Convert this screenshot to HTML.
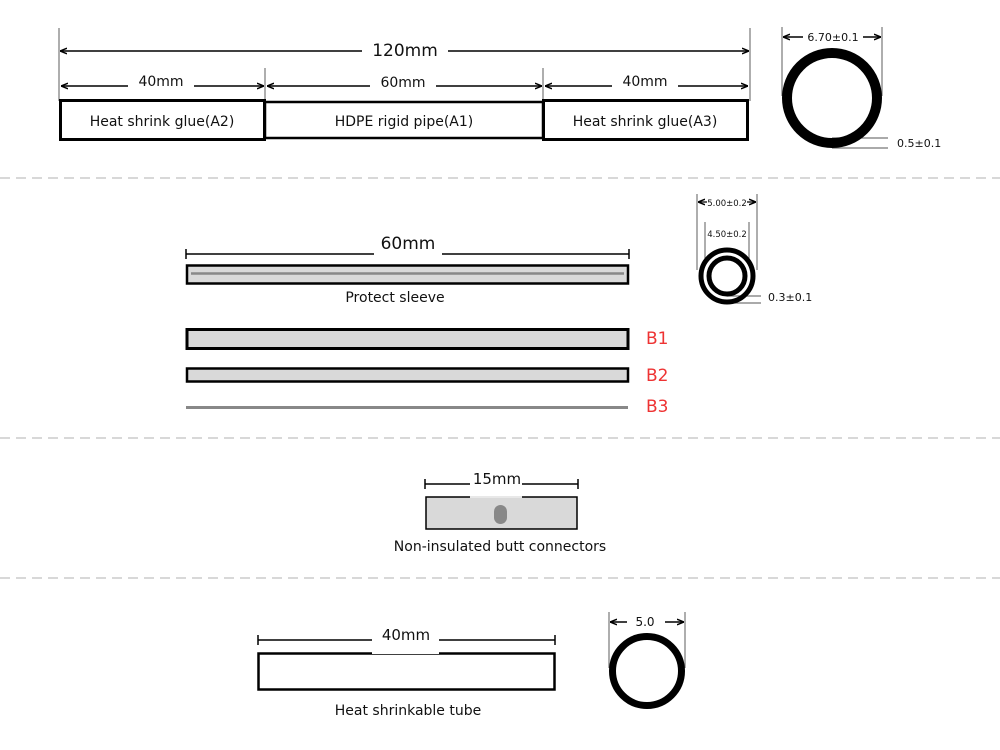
<!DOCTYPE html>
<html><head><meta charset="utf-8"><style>
html,body{margin:0;padding:0;background:#fff;}
svg{display:block;font-family:"DejaVu Sans","Liberation Sans",sans-serif;}
</style></head><body>
<svg width="1000" height="750" viewBox="0 0 1000 750" xmlns="http://www.w3.org/2000/svg">
<defs>
<marker id="ah" viewBox="0 0 10 10" refX="10" refY="5" markerWidth="7" markerHeight="7" orient="auto-start-reverse" markerUnits="userSpaceOnUse">
<path d="M0,1 L10,5 L0,9" fill="none" stroke="#000" stroke-width="2"/>
</marker>
</defs>
<!-- separators -->
<g stroke="#ccc" stroke-width="1.5" stroke-dasharray="10,6">
<line x1="0" y1="178" x2="1000" y2="178"/>
<line x1="0" y1="438" x2="1000" y2="438"/>
<line x1="0" y1="578" x2="1000" y2="578"/>
</g>

<!-- Section 1 -->
<g stroke="#777" stroke-width="1.2">
<line x1="59" y1="28" x2="59" y2="101"/>
<line x1="750" y1="28" x2="750" y2="101"/>
<line x1="265" y1="68" x2="265" y2="100"/>
<line x1="543" y1="68" x2="543" y2="100"/>
</g>
<g stroke="#000" stroke-width="1.5" marker-start="url(#ah)" marker-end="url(#ah)">
<line x1="60" y1="51" x2="749" y2="51"/>
<line x1="61" y1="86" x2="264" y2="86"/>
<line x1="267" y1="86" x2="542" y2="86"/>
<line x1="545" y1="86" x2="748" y2="86"/>
</g>
<g fill="#fff">
<rect x="362" y="40" width="86" height="20"/>
<rect x="128" y="74" width="66" height="18"/>
<rect x="370" y="74" width="66" height="18"/>
<rect x="612" y="74" width="66" height="18"/>
</g>
<g font-size="14" text-anchor="middle" fill="#111">
<text x="405" y="56" font-size="17">120mm</text>
<text x="161" y="86">40mm</text>
<text x="403" y="87">60mm</text>
<text x="645" y="86">40mm</text>
</g>
<g fill="#fff" stroke="#000">
<rect x="60.5" y="100.5" width="204" height="39" stroke-width="3"/>
<rect x="265" y="102" width="278" height="36" stroke-width="2.5"/>
<rect x="543.5" y="100.5" width="204" height="39" stroke-width="3"/>
</g>
<g font-size="14" text-anchor="middle" fill="#111">
<text x="162" y="126">Heat shrink glue(A2)</text>
<text x="404" y="126">HDPE rigid pipe(A1)</text>
<text x="645" y="126">Heat shrink glue(A3)</text>
</g>
<!-- big ring -->
<g stroke="#777" stroke-width="1.2">
<line x1="782" y1="27" x2="782" y2="96"/>
<line x1="882" y1="27" x2="882" y2="96"/>
<line x1="832" y1="138" x2="888" y2="138"/>
<line x1="832" y1="148" x2="888" y2="148"/>
</g>
<line x1="783" y1="37" x2="881" y2="37" stroke="#000" stroke-width="1.5" marker-start="url(#ah)" marker-end="url(#ah)"/>
<rect x="803" y="29" width="60" height="16" fill="#fff"/>
<text x="833" y="41" font-size="11" text-anchor="middle" fill="#111">6.70±0.1</text>
<circle cx="832" cy="98" r="45" fill="none" stroke="#000" stroke-width="10"/>
<text x="897" y="147" font-size="11" fill="#111">0.5±0.1</text>

<!-- Section 2 -->
<line x1="186" y1="254" x2="629" y2="254" stroke="#000" stroke-width="1.5"/>
<line x1="186" y1="249" x2="186" y2="259" stroke="#000" stroke-width="1.5"/>
<line x1="629" y1="249" x2="629" y2="259" stroke="#000" stroke-width="1.5"/>
<rect x="374" y="242" width="68" height="20" fill="#fff"/>
<text x="408" y="249" font-size="17" text-anchor="middle" fill="#111">60mm</text>
<rect x="187" y="265.5" width="441" height="18" fill="#d9d9d9" stroke="#000" stroke-width="2.5"/>
<line x1="191" y1="273.5" x2="624" y2="273.5" stroke="#888" stroke-width="2.5"/>
<text x="395" y="302" font-size="14" text-anchor="middle" fill="#111">Protect sleeve</text>
<rect x="187" y="329.5" width="441" height="19" fill="#d9d9d9" stroke="#000" stroke-width="3"/>
<rect x="187" y="368.5" width="441" height="13" fill="#d9d9d9" stroke="#000" stroke-width="2.5"/>
<line x1="186" y1="407.5" x2="628" y2="407.5" stroke="#888" stroke-width="3"/>
<g font-size="17" fill="#ee3333">
<text x="646" y="344">B1</text>
<text x="646" y="381">B2</text>
<text x="646" y="412">B3</text>
</g>
<!-- small double ring -->
<g stroke="#777" stroke-width="1.2">
<line x1="697" y1="194" x2="697" y2="270"/>
<line x1="757" y1="194" x2="757" y2="270"/>
<line x1="705" y1="222" x2="705" y2="266"/>
<line x1="749" y1="222" x2="749" y2="266"/>
<line x1="727" y1="296" x2="761" y2="296"/>
<line x1="727" y1="303" x2="761" y2="303"/>
</g>
<line x1="698" y1="202" x2="756" y2="202" stroke="#000" stroke-width="1.3" marker-start="url(#ah)" marker-end="url(#ah)"/>
<rect x="707" y="196" width="40" height="12" fill="#fff"/>
<text x="727" y="206" font-size="8.5" text-anchor="middle" fill="#111">5.00±0.2</text>
<text x="727" y="237" font-size="8.5" text-anchor="middle" fill="#111">4.50±0.2</text>
<circle cx="727" cy="276" r="26" fill="none" stroke="#000" stroke-width="5"/>
<circle cx="727" cy="276" r="18" fill="none" stroke="#000" stroke-width="5"/>
<text x="768" y="301" font-size="11" fill="#111">0.3±0.1</text>

<!-- Section 3 -->
<line x1="425" y1="484" x2="578" y2="484" stroke="#000" stroke-width="1.5"/>
<line x1="425" y1="479" x2="425" y2="489" stroke="#000" stroke-width="1.5"/>
<line x1="578" y1="479" x2="578" y2="489" stroke="#000" stroke-width="1.5"/>
<rect x="470" y="470" width="52" height="26" fill="#fff"/>
<rect x="426" y="497" width="151" height="32" fill="#d9d9d9" stroke="#000" stroke-width="1.5"/>
<rect x="470" y="496" width="52" height="2" fill="#e8e8e8"/>
<text x="497" y="484" font-size="15" text-anchor="middle" fill="#111">15mm</text>
<rect x="494" y="505" width="13" height="19" rx="6.5" fill="#888"/>
<text x="500" y="551" font-size="14" text-anchor="middle" fill="#111">Non-insulated butt connectors</text>

<!-- Section 4 -->
<line x1="258" y1="640" x2="555" y2="640" stroke="#000" stroke-width="1.5"/>
<line x1="258" y1="635" x2="258" y2="645" stroke="#000" stroke-width="1.5"/>
<line x1="555" y1="635" x2="555" y2="645" stroke="#000" stroke-width="1.5"/>
<rect x="258.5" y="653.5" width="296" height="36" fill="#fff" stroke="#000" stroke-width="2.5"/>
<rect x="372" y="626" width="67" height="28" fill="#fff"/>
<text x="406" y="640" font-size="15" text-anchor="middle" fill="#111">40mm</text>
<text x="408" y="715" font-size="14" text-anchor="middle" fill="#111">Heat shrinkable tube</text>
<g stroke="#777" stroke-width="1.2">
<line x1="609" y1="612" x2="609" y2="668"/>
<line x1="685" y1="612" x2="685" y2="668"/>
</g>
<line x1="610" y1="622" x2="684" y2="622" stroke="#000" stroke-width="1.5" marker-start="url(#ah)" marker-end="url(#ah)"/>
<rect x="627" y="614" width="38" height="16" fill="#fff"/>
<text x="645" y="626" font-size="12" text-anchor="middle" fill="#111">5.0</text>
<circle cx="647" cy="671" r="34.5" fill="none" stroke="#000" stroke-width="7"/>
</svg>
</body></html>
